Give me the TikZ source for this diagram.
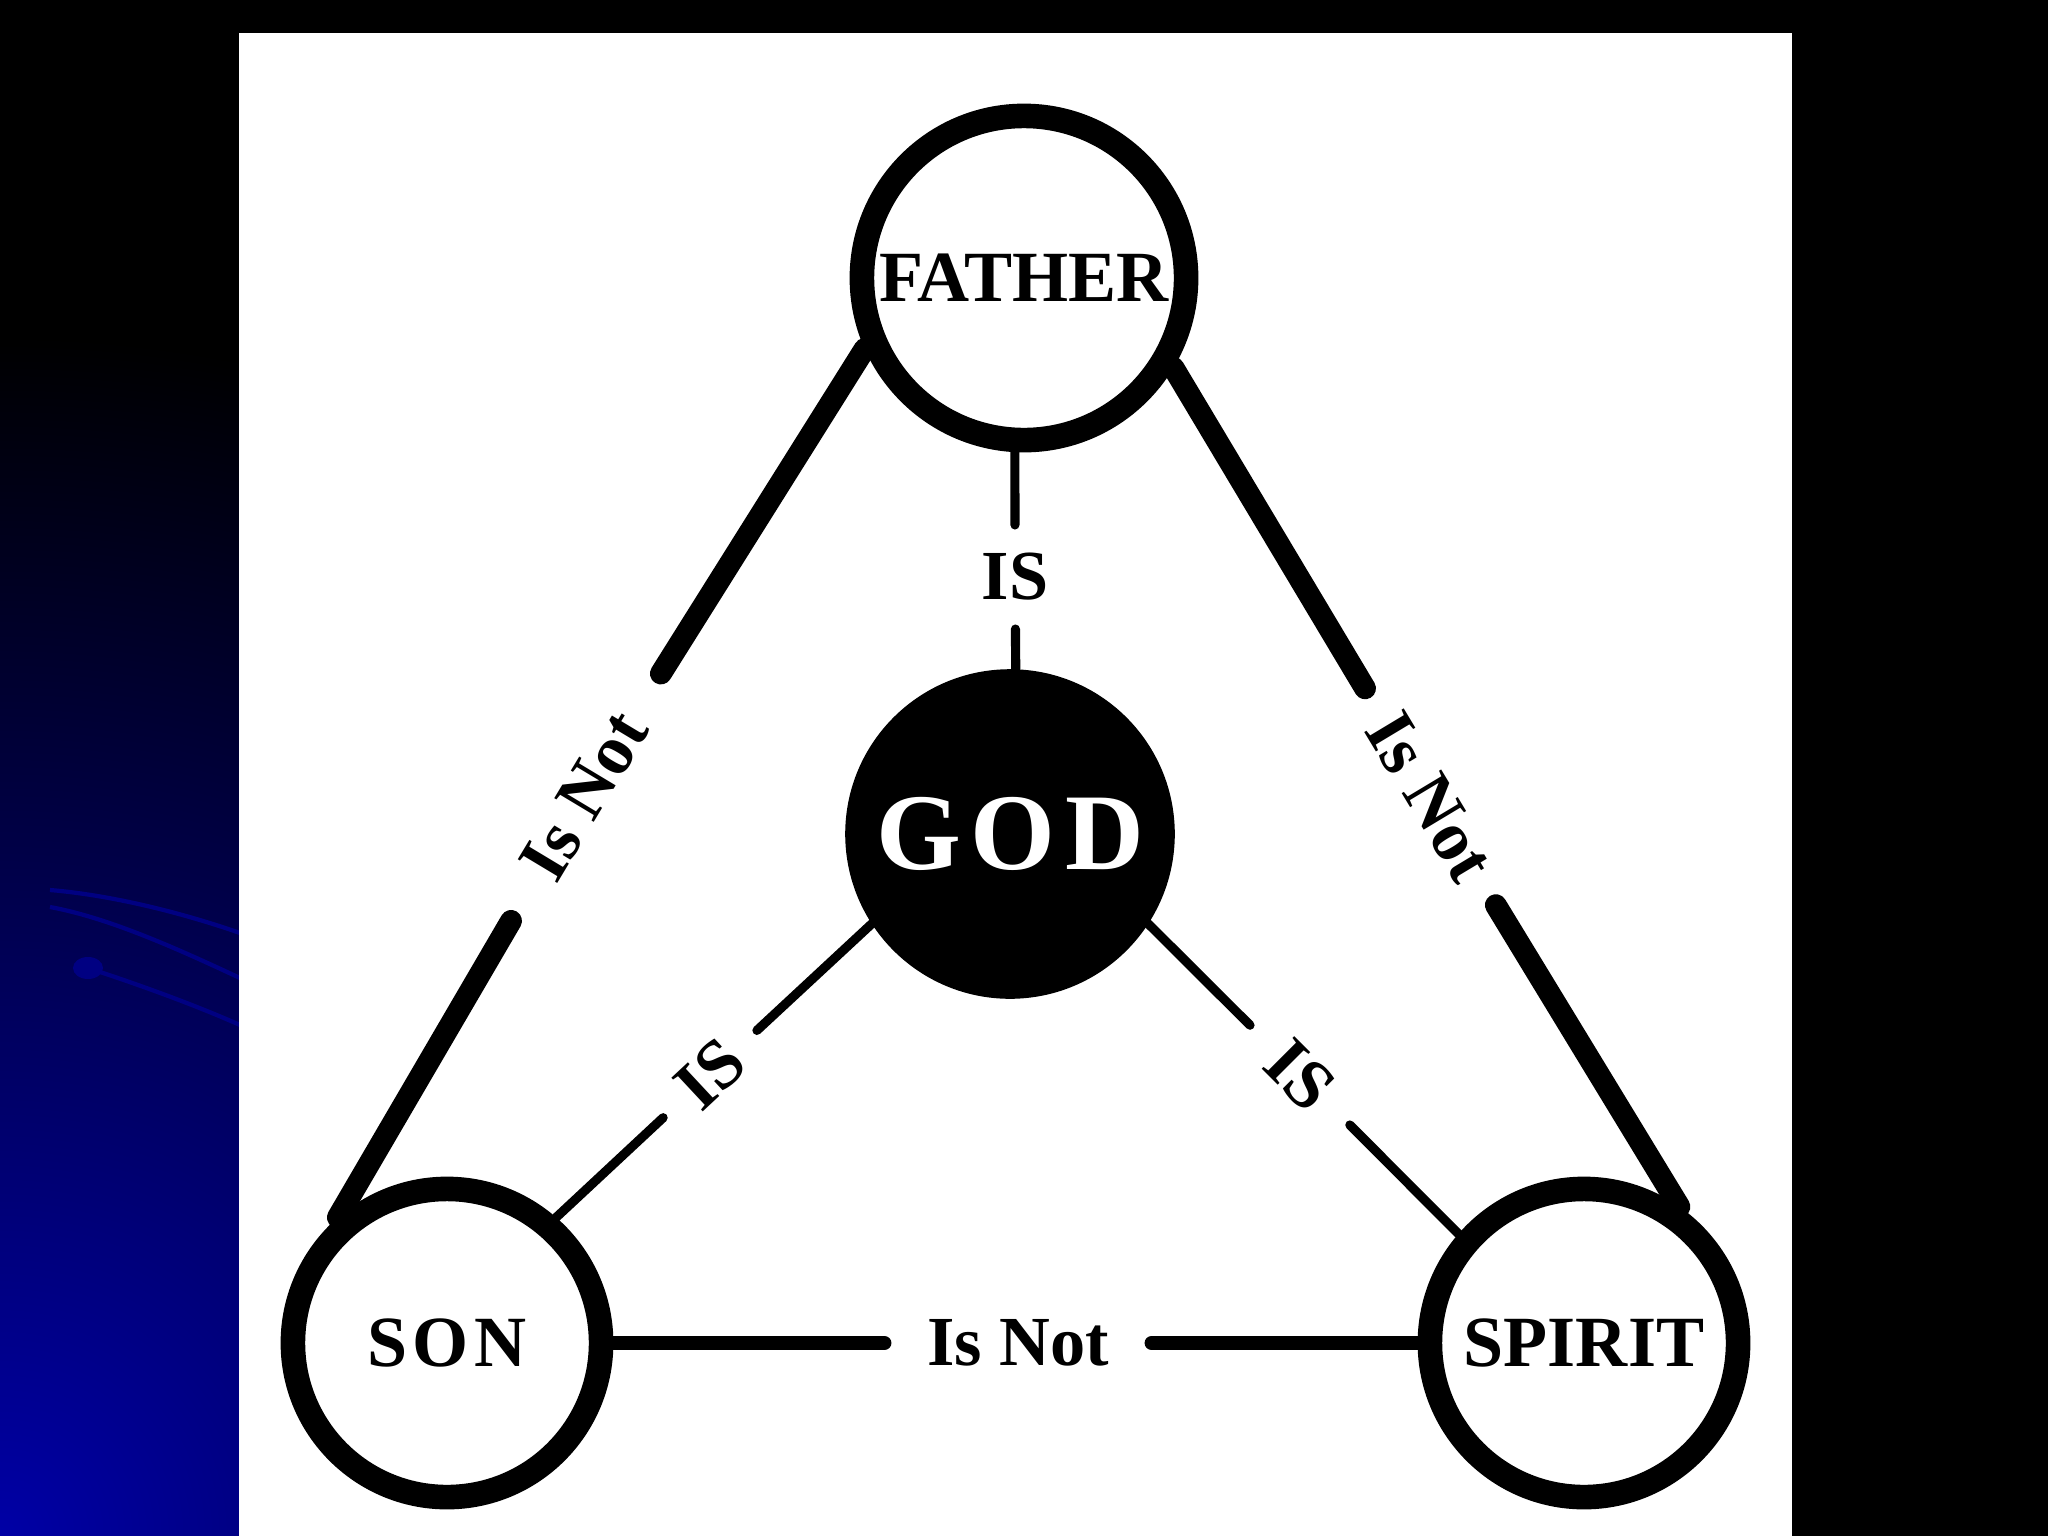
\documentclass[tikz,border=0pt]{standalone}
\usepackage{fontspec}
\setmainfont{Liberation Serif}
\usepackage{tikz}
\usetikzlibrary{shapes}
\definecolor{arcblue}{RGB}{0,0,130}

\begin{document}
\begin{tikzpicture}[x = 0.01cm, y = -0.01cm,
		person/.style = {circle, draw = black, fill = white, line width = 7pt, minimum size = #1, inner sep = 0pt, font = \fontsize{20.5}{24}\selectfont\bfseries},
		godhead/.style = {circle, draw = black, fill = black, minimum size = 3.28cm, inner sep = 0pt, text = white, font = \fontsize{31}{34}\selectfont\bfseries\addfontfeatures{LetterSpace=9}},
		gap/.style = {circle, minimum size = #1, inner sep = 0pt, outer sep = 0pt, font = \fontsize{20}{24}\selectfont\bfseries},
		isnot/.style = {line width = 6.2pt, line cap = round},
		isnotflat/.style = {line width = 4pt, line cap = round},
		is/.style = {line width = 2.6pt, line cap = round}]
		
		\useasboundingbox (0, 0) rectangle (2048, 1536);
		% Slide
		\fill [color = black] (0, 0) rectangle (2048, 1536);
		\begin{scope}
			\clip (0, 0) rectangle (239, 1536);
			\shade [inner color = blue!65!black, outer color = black] (0, 1536) circle (1200);
			\draw [color = arcblue, line width = 1.2pt] (50, 890) .. controls (110, 895) and (180, 912) .. (240, 933);
			\draw [color = arcblue, line width = 1.2pt] (50, 907) .. controls (110, 918) and (180, 950) .. (240, 978);
			\draw [color = arcblue, line width = 1.2pt] (88, 968) .. controls (140, 985) and (195, 1005) .. (240, 1025);
			\fill [color = arcblue] (88, 968) ellipse (15 and 11);
		\end{scope}
		\fill [color = white] (239, 33) rectangle (1792, 1536);
		
		% Persons
		\node[person = 3.24cm] (father) at (1024, 278) {FATHER};
		\node[person = 3.08cm] (son) at (447, 1343) {\addfontfeatures{LetterSpace=8}SON};
		\node[person = 3.08cm] (spirit) at (1584, 1343) {SPIRIT};
		\node[godhead] (god) at (1010, 834) {GOD};
		
		% Labels
		\node[gap = 1.04cm] (isFG) at (1015, 577) {IS};
		\node[gap = 1.28cm, rotate = 43] (isGS) at (710, 1074) {IS};
		\node[gap = 1.41cm, rotate = -45] (isGSp) at (1300, 1075) {IS};
		\node[gap = 2.89cm, rotate = 59] (notFS) at (584, 796) {Is Not};
		\node[gap = 2.53cm, rotate = -59] (notFSp) at (1430, 797) {Is Not};
		\node[gap = 2.67cm] (notSSp) at (1018, 1343) {Is Not};
		
		% Is
		\draw[is] (father.267) -- (isFG);
		\draw[is] (isFG) -- (god.88);
		\draw[is] (god.213) -- (isGS);
		\draw[is] (isGS) -- (son.49);
		\draw[is] (god.327) -- (isGSp);
		\draw[is] (isGSp) -- (spirit.139);
		
		% Is Not
		\draw[isnot] (father.204) -- (notFS);
		\draw[isnot] (notFS) -- (son.131);
		\draw[isnot] (father.329) -- (notFSp);
		\draw[isnot] (notFSp) -- (spirit.55);
		\draw[isnotflat] (son.east) -- (notSSp);
		\draw[isnotflat] (notSSp) -- (spirit.west);
	\end{tikzpicture}
\end{document}
